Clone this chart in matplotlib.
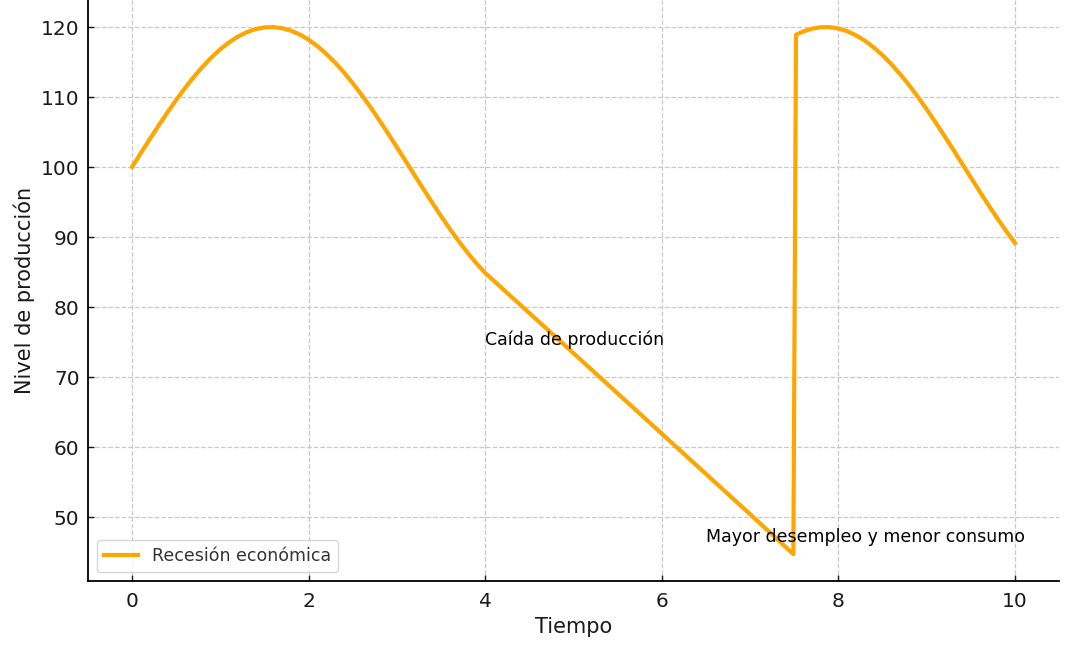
import matplotlib
matplotlib.use("Agg")
import matplotlib.pyplot as plt

# Data
tiempo = [0.0, 0.1, 0.2, 0.3, 0.4, 0.5, 0.6, 0.7, 0.8, 0.9,
          1.0, 1.1, 1.2, 1.3, 1.4, 1.5, 1.6, 1.7, 1.8, 1.9,
          2.0, 2.1, 2.2, 2.3, 2.4, 2.5, 2.6, 2.7, 2.8, 2.9,
          3.0, 3.1, 3.2, 3.3, 3.4, 3.5, 3.6, 3.7, 3.8, 3.9,
          4.0, 5.0, 6.0, 7.0, 7.49,
          7.52, 7.6, 7.7, 7.8, 7.9, 8.0, 8.1, 8.2, 8.3, 8.4, 8.5, 8.6, 8.7, 8.8, 8.9,
          9.0, 9.1, 9.2, 9.3, 9.4, 9.5, 9.6, 9.7, 9.8, 9.9, 10.0]
produccion = [100.0, 102.00, 103.97, 105.91, 107.79, 109.59, 111.29, 112.88, 114.35, 115.67,
              116.83, 117.82, 118.64, 119.27, 119.71, 119.95, 119.99, 119.83, 119.48, 118.93,
              118.19, 117.26, 116.17, 114.91, 113.51, 111.97, 110.31, 108.55, 106.70, 104.78,
              102.82, 100.83, 98.83, 96.85, 94.89, 92.98, 91.15, 89.40, 87.76, 86.24,
              84.86, 73.4, 61.9, 50.4, 44.7,
              118.9, 119.36, 119.76, 119.97, 119.98, 119.79, 119.40, 118.81, 118.04, 117.09,
              115.97, 114.69, 113.26, 111.70, 110.02,
              108.24, 106.38, 104.46, 102.49, 100.50, 98.50, 96.51, 94.56, 92.67, 90.85, 89.12]
serie_label = "Recesión económica"
anotaciones = [("Caída de producción", 4.0, 74.6),
               ("Mayor desempleo y menor consumo", 6.5, 46.4)]
x_ticks = [0, 2, 4, 6, 8, 10]
y_ticks = [50, 60, 70, 80, 90, 100, 110, 120]

fig = plt.figure(figsize=(10.72, 6.48), dpi=100)
ax = fig.add_axes([0.082, 0.1034, 0.906, 0.8966])

ax.plot(tiempo, produccion, color="#FFA500", linewidth=3, label=serie_label)

for txt, x, y in anotaciones:
    ax.text(x, y, txt, fontsize=12.5, color="black")

ax.set_xlim(-0.5, 10.5)
ax.set_ylim(40.86, 123.86)
ax.set_xticks(x_ticks)
ax.set_yticks(y_ticks)
ax.tick_params(direction="in", length=4, width=1, labelsize=14.5, colors="#1a1a1a")
ax.tick_params(axis="x", pad=8)
ax.tick_params(axis="y", pad=6)

ax.set_xlabel("Tiempo", fontsize=15, color="#1a1a1a")
ax.set_ylabel("Nivel de producción", fontsize=15, color="#1a1a1a")

ax.grid(True, linestyle="--", color="#c8c8c8", linewidth=0.9)
ax.set_axisbelow(True)
for s in ["top", "right"]:
    ax.spines[s].set_visible(False)
for s in ["left", "bottom"]:
    ax.spines[s].set_linewidth(1.3)
    ax.spines[s].set_color("black")

leg = ax.legend(loc="lower left", fontsize=12.5, frameon=True, fancybox=True)
for t in leg.get_texts():
    t.set_color("#333333")

fig.savefig("out.png", dpi=100)
